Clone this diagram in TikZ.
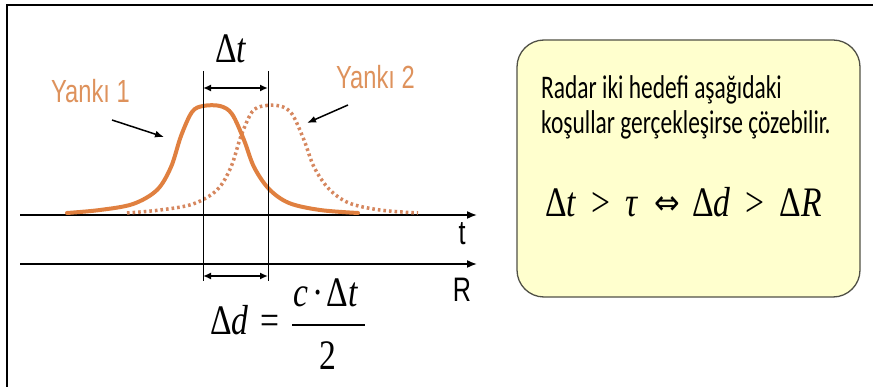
\documentclass[tikz,border=0pt]{standalone}
\usepackage{fontspec}
\usetikzlibrary{arrows.meta}
\newfontfamily\sansY[FakeStretch=0.74]{Liberation Sans}
\newfontfamily\boxfont[FakeStretch=0.71]{Carlito}
\newfontfamily\tms[FakeStretch=0.8]{Liberation Serif}
\newfontfamily\dvs[FakeStretch=0.9]{DejaVu Sans}
\definecolor{curveA}{RGB}{224,128,64}
\definecolor{curveB}{RGB}{214,135,95}
\definecolor{labelc}{RGB}{222,146,92}
\definecolor{boxfill}{RGB}{255,255,206}
\definecolor{boxline}{RGB}{80,80,70}
\tikzset{
  axisline/.style={line width=1.6pt, -{Latex[length=10pt,width=8pt]}},
  guide/.style={line width=0.8pt},
  dimarrow/.style={line width=1.8pt, {Latex[length=8pt,width=7pt]}-{Latex[length=8pt,width=7pt]}},
  pointer/.style={line width=1.5pt, -{Latex[length=9pt,width=7pt]}},
  echoA/.style={curveA, line width=4pt, line cap=round, line join=round},
  echoB/.style={curveB, line width=3.5pt, dash pattern=on 2.6pt off 3pt},
  yl/.style={text=labelc, font=\sansY\fontsize{32}{34}\selectfont, inner sep=0pt, anchor=base west},
  axl/.style={font=\sansY\fontsize{34}{36}\selectfont, inner sep=0pt, anchor=base},
  ser/.style={font=\tms\fontsize{42}{46}\selectfont, inner sep=0pt},
  boxtxt/.style={font=\boxfont\fontsize{33}{36}\selectfont, inner sep=0pt, anchor=base west},
}
\begin{document}
\begin{tikzpicture}[x=1pt,y=-1pt]
\useasboundingbox (0,0) rectangle (873,387);
\fill[white] (0,0) rectangle (873,387);
% frame
\draw[line width=2.6pt] (7,390) -- (7,5) -- (875,5);
% yellow box
\draw[boxline, fill=boxfill, line width=1.3pt, rounded corners=27pt] (517,40) rectangle (860,297);
\node[boxtxt] (l1) at (541,99) {Radar iki hedefi aşağıdaki};
\node[boxtxt] (l2) at (541,134) {koşullar gerçekleşirse çözebilir.};
\node[ser, anchor=base west] (f1) at (545,217) {Δ\textit{t}\hspace{15pt}>\hspace{15pt}\textit{τ}};
\node[font=\dvs\fontsize{34}{36}\selectfont, inner sep=0pt] (eq) at (667,206) {⇔};
\node[ser, anchor=base west] (f2) at (692,217) {Δ\textit{d}\hspace{15pt}>\hspace{15pt}Δ\textit{R}};
% axes
\coordinate (ta) at (20,215); \coordinate (tb) at (477,215);
\coordinate (ra) at (20,264); \coordinate (rb) at (477,264);
\draw[axisline] (ta) -- (tb);
\draw[axisline] (ra) -- (rb);
\node[axl] (tl) at (462,245) {t};
\node[axl] (rl) at (462,302) {R};
% echoes
\draw[echoB, xshift=60pt] plot[smooth, tension=0.55] coordinates {(67,213) (100,210) (133,204) (157,190) (171,167) (181,136) (192,112) (203,106) (220,106) (232,114) (244,140) (254,167) (269,189) (289,203) (320,210) (358,213)};
\draw[echoA] plot[smooth, tension=0.55] coordinates {(67,213) (100,210) (133,204) (157,190) (171,167) (181,136) (192,112) (203,106) (220,106) (232,114) (244,140) (254,167) (269,189) (289,203) (320,210) (358,213)};
% guides
\coordinate (v1t) at (203,71); \coordinate (v1b) at (203,281);
\coordinate (v2t) at (268,71); \coordinate (v2b) at (268,281);
\draw[guide] (v1t) -- (v1b);
\draw[guide] (v2t) -- (v2b);
\coordinate (d1a) at (203,88); \coordinate (d1b) at (268,88);
\coordinate (d2a) at (203,276); \coordinate (d2b) at (268,276);
\draw[dimarrow] (d1a) -- (d1b);
\draw[dimarrow] (d2a) -- (d2b);
\node[ser, anchor=base] (dt) at (231,63) {Δ\textit{t}};
% labels
\node[yl] (y1) at (51,103) {Yankı 1};
\node[yl] (y2) at (336,89) {Yankı 2};
\coordinate (p1a) at (112,120); \coordinate (p1b) at (164,137);
\coordinate (p2a) at (348,105); \coordinate (p2b) at (307,123);
\draw[pointer] (p1a) -- (p1b);
\draw[pointer] (p2a) -- (p2b);
% formula
\node[ser, anchor=base west] (dd) at (210,335) {Δ\textit{d}\hspace{12pt}=};
\node[ser, anchor=base] (num) at (326,307) {\textit{c}\hspace{4pt}·\hspace{3pt}Δ\textit{t}};
\node[ser, anchor=base] (den) at (328,370) {2};
\coordinate (fa) at (292,325); \coordinate (fb) at (365,325);
\draw[line width=1.4pt] (fa) -- (fb);
\end{tikzpicture}
\end{document}
